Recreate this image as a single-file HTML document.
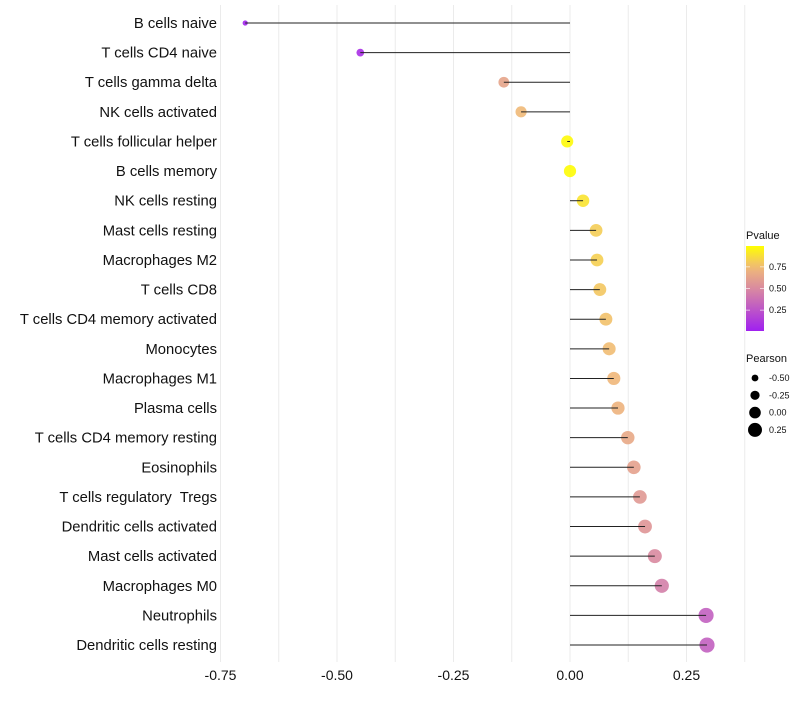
<!DOCTYPE html>
<html><head><meta charset="utf-8"><style>
body{margin:0;background:#fff;font-family:"Liberation Sans",sans-serif}
text{white-space:pre}
</style></head><body>
<svg id="chart" width="800" height="700" xmlns="http://www.w3.org/2000/svg" font-family="Liberation Sans, sans-serif"></svg>
<script>
const categories=["B cells naive","T cells CD4 naive","T cells gamma delta","NK cells activated","T cells follicular helper","B cells memory","NK cells resting","Mast cells resting","Macrophages M2","T cells CD8","T cells CD4 memory activated","Monocytes","Macrophages M1","Plasma cells","T cells CD4 memory resting","Eosinophils","T cells regulatory  Tregs","Dendritic cells activated","Mast cells activated","Macrophages M0","Neutrophils","Dendritic cells resting"];
const pearson=[-0.697,-0.45,-0.142,-0.105,-0.006,0.0,0.028,0.056,0.058,0.064,0.077,0.084,0.094,0.103,0.124,0.137,0.150,0.161,0.182,0.197,0.292,0.294];
const pvalue=[0.02,0.07,0.64,0.75,0.98,0.99,0.9,0.82,0.83,0.8,0.78,0.76,0.74,0.72,0.66,0.62,0.58,0.56,0.5,0.45,0.3,0.3];
const xTicks=[-0.75,-0.5,-0.25,0,0.25];
const xTickLabels=["-0.75","-0.50","-0.25","0.00","0.25"];
const pTicks=[0.25,0.5,0.75];
const sizeTicks=[-0.5,-0.25,0,0.25];
const NS="http://www.w3.org/2000/svg";
const svg=document.getElementById('chart');
const X=v=>570+v*466;
const Y=i=>23+i*29.62;
const R=v=>6.1+5*v;
const stops=[[0,[160,32,240]],[0.5,[217,138,160]],[0.75,[240,185,120]],[1,[255,255,0]]];
function col(p){for(let k=0;k<stops.length-1;k++){const a=stops[k],b=stops[k+1];if(p<=b[0]){const t=(p-a[0])/(b[0]-a[0]);const c=a[1].map((x,j)=>Math.round(x+(b[1][j]-x)*t));return `rgb(${c})`;}}return 'rgb(255,255,0)';}
function el(t,a,txt){const e=document.createElementNS(NS,t);for(const k in a)e.setAttribute(k,a[k]);if(txt!=null)e.textContent=txt;svg.appendChild(e);return e;}
for(let v=-0.75;v<=0.376;v+=0.125){const g=el('line',{x1:X(v),x2:X(v),y1:5,y2:662,stroke:'#ebebeb','stroke-width':1});

}
xTicks.forEach((v,i)=>{const t=el('text',{x:X(v),y:680,'text-anchor':'middle','font-size':14,fill:'#111'},xTickLabels[i]);

});
categories.forEach((c,i)=>{
const t=el('text',{x:217,y:Y(i)+5,'text-anchor':'end','font-size':14.8,fill:'#111'},c);


const d=el('circle',{cx:X(pearson[i]),cy:Y(i),r:R(pearson[i]),fill:col(pvalue[i]),'fill-opacity':0.9});


const l=el('line',{x1:X(pearson[i]),x2:X(0),y1:Y(i),y2:Y(i),stroke:'#222','stroke-width':1});


});
const defs=el('defs',{});
const lg=document.createElementNS(NS,'linearGradient');lg.setAttribute('id','pg');lg.setAttribute('x1',0);lg.setAttribute('y1',1);lg.setAttribute('x2',0);lg.setAttribute('y2',0);defs.appendChild(lg);
for(let p=0;p<=1.001;p+=0.1){const s=document.createElementNS(NS,'stop');s.setAttribute('offset',p);s.setAttribute('stop-color',col(p));lg.appendChild(s);}
const lt=el('text',{x:746,y:239,'font-size':11,fill:'#111'},'Pvalue');


const bar=el('rect',{x:746,y:246,width:18,height:85,fill:'url(#pg)'});


const PY=p=>331-(p-0.01)/0.98*85;
pTicks.forEach(p=>{el('line',{x1:746,x2:750,y1:PY(p),y2:PY(p),stroke:'#fff','stroke-opacity':0.6});el('line',{x1:760,x2:764,y1:PY(p),y2:PY(p),stroke:'#fff','stroke-opacity':0.6});
const t=el('text',{x:769,y:PY(p)+3,'font-size':9,fill:'#111'},p.toFixed(2));

});
const st=el('text',{x:746,y:362,'font-size':11,fill:'#111'},'Pearson');


sizeTicks.forEach((v,i)=>{const y=378+i*17.3;
const c=el('circle',{cx:755,cy:y,r:R(v)*0.95,fill:'#000'});


const t=el('text',{x:769,y:y+3,'font-size':9,fill:'#111'},v.toFixed(2));

});
</script>
</body></html>
